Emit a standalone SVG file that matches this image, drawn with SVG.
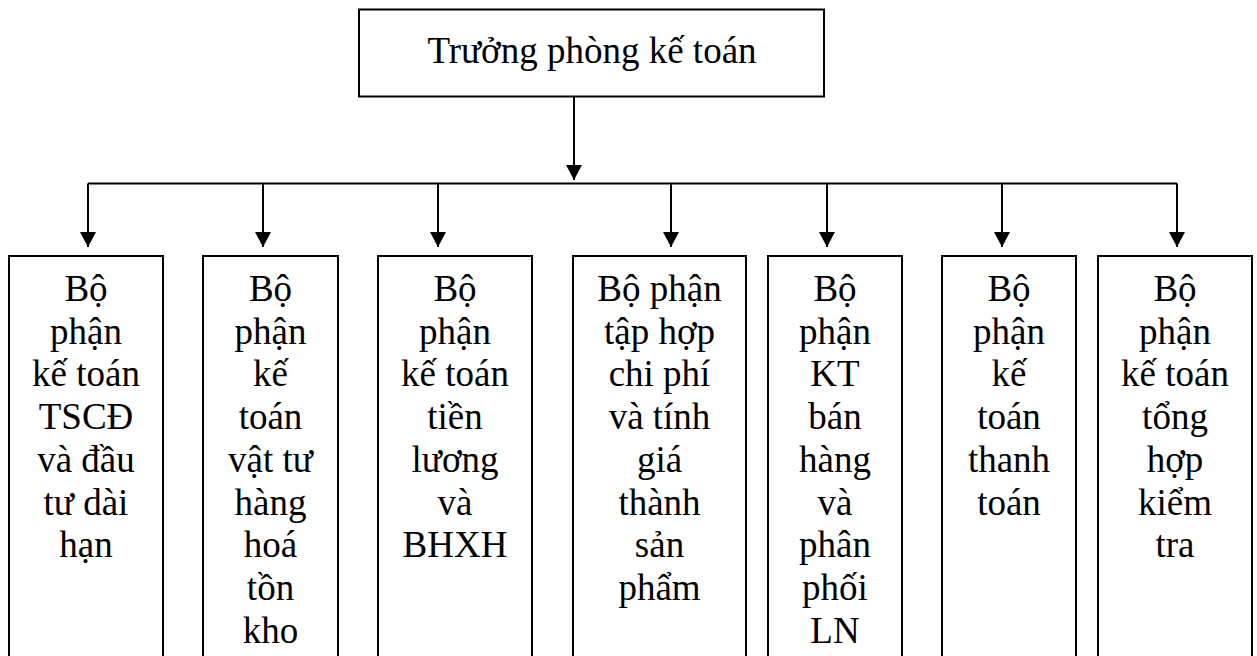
<svg xmlns="http://www.w3.org/2000/svg" width="1257" height="656" viewBox="0 0 1257 656">
  <style>
    .box { fill: #ffffff; stroke: #000000; stroke-width: 2; }
    .lbl { font-family: "Liberation Serif", "Times New Roman", serif; font-size: 37px; fill: #000000; text-anchor: middle; }
    .wire { fill: none; stroke: #000000; stroke-width: 2; }
  </style>
  <defs>
    <marker id="arrow" viewBox="0 0 15 16" refX="15" refY="8" markerWidth="15" markerHeight="16" markerUnits="userSpaceOnUse" orient="auto">
      <path d="M0,0 L15,8 L0,16 z" fill="#000000"/>
    </marker>
  </defs>
  <rect width="1257" height="656" fill="#ffffff"/>

  <!-- connectors -->
  <g id="connectors">
    <line class="wire" x1="574" y1="97" x2="574" y2="180" marker-end="url(#arrow)"/>
    <line class="wire" x1="88" y1="183.5" x2="1177" y2="183.5"/>
    <line class="wire" x1="88" y1="183.5" x2="88" y2="247" marker-end="url(#arrow)"/>
    <line class="wire" x1="263" y1="183.5" x2="263" y2="247" marker-end="url(#arrow)"/>
    <line class="wire" x1="438" y1="183.5" x2="438" y2="247" marker-end="url(#arrow)"/>
    <line class="wire" x1="671" y1="183.5" x2="671" y2="247" marker-end="url(#arrow)"/>
    <line class="wire" x1="827" y1="183.5" x2="827" y2="247" marker-end="url(#arrow)"/>
    <line class="wire" x1="1002" y1="183.5" x2="1002" y2="247" marker-end="url(#arrow)"/>
    <line class="wire" x1="1177" y1="183.5" x2="1177" y2="247" marker-end="url(#arrow)"/>
  </g>

  <!-- head of department -->
  <g id="truong-phong">
    <rect class="box" x="359" y="9.5" width="465" height="87"/>
    <text class="lbl" x="592" y="63">Trưởng phòng kế toán</text>
  </g>

  <!-- sections (boxes run past the bottom edge of the page) -->
  <g id="tscd">
    <rect class="box" x="9" y="256" width="154" height="420"/>
    <text class="lbl" y="301"><tspan x="86">Bộ</tspan><tspan x="86" dy="42.7">phận</tspan><tspan x="86" dy="42.7">kế toán</tspan><tspan x="86" dy="42.7">TSCĐ</tspan><tspan x="86" dy="42.7">và đầu</tspan><tspan x="86" dy="42.7">tư dài</tspan><tspan x="86" dy="42.7">hạn</tspan></text>
  </g>

  <g id="vat-tu">
    <rect class="box" x="203" y="256" width="135" height="420"/>
    <text class="lbl" y="301"><tspan x="270.5">Bộ</tspan><tspan x="270.5" dy="42.7">phận</tspan><tspan x="270.5" dy="42.7">kế</tspan><tspan x="270.5" dy="42.7">toán</tspan><tspan x="270.5" dy="42.7">vật tư</tspan><tspan x="270.5" dy="42.7">hàng</tspan><tspan x="270.5" dy="42.7">hoá</tspan><tspan x="270.5" dy="42.7">tồn</tspan><tspan x="270.5" dy="42.7">kho</tspan></text>
  </g>

  <g id="tien-luong">
    <rect class="box" x="378" y="256" width="154" height="420"/>
    <text class="lbl" y="301"><tspan x="455">Bộ</tspan><tspan x="455" dy="42.7">phận</tspan><tspan x="455" dy="42.7">kế toán</tspan><tspan x="455" dy="42.7">tiền</tspan><tspan x="455" dy="42.7">lương</tspan><tspan x="455" dy="42.7">và</tspan><tspan x="455" dy="42.7">BHXH</tspan></text>
  </g>

  <g id="chi-phi">
    <rect class="box" x="573" y="256" width="173" height="420"/>
    <text class="lbl" y="301"><tspan x="659.5">Bộ phận</tspan><tspan x="659.5" dy="42.7">tập hợp</tspan><tspan x="659.5" dy="42.7">chi phí</tspan><tspan x="659.5" dy="42.7">và tính</tspan><tspan x="659.5" dy="42.7">giá</tspan><tspan x="659.5" dy="42.7">thành</tspan><tspan x="659.5" dy="42.7">sản</tspan><tspan x="659.5" dy="42.7">phẩm</tspan></text>
  </g>

  <g id="ban-hang">
    <rect class="box" x="768" y="256" width="134" height="420"/>
    <text class="lbl" y="301"><tspan x="835">Bộ</tspan><tspan x="835" dy="42.7">phận</tspan><tspan x="835" dy="42.7">KT</tspan><tspan x="835" dy="42.7">bán</tspan><tspan x="835" dy="42.7">hàng</tspan><tspan x="835" dy="42.7">và</tspan><tspan x="835" dy="42.7">phân</tspan><tspan x="835" dy="42.7">phối</tspan><tspan x="835" dy="42.7">LN</tspan></text>
  </g>

  <g id="thanh-toan">
    <rect class="box" x="942" y="256" width="134" height="420"/>
    <text class="lbl" y="301"><tspan x="1009">Bộ</tspan><tspan x="1009" dy="42.7">phận</tspan><tspan x="1009" dy="42.7">kế</tspan><tspan x="1009" dy="42.7">toán</tspan><tspan x="1009" dy="42.7">thanh</tspan><tspan x="1009" dy="42.7">toán</tspan></text>
  </g>

  <g id="tong-hop">
    <rect class="box" x="1098" y="256" width="154" height="420"/>
    <text class="lbl" y="301"><tspan x="1175">Bộ</tspan><tspan x="1175" dy="42.7">phận</tspan><tspan x="1175" dy="42.7">kế toán</tspan><tspan x="1175" dy="42.7">tổng</tspan><tspan x="1175" dy="42.7">hợp</tspan><tspan x="1175" dy="42.7">kiểm</tspan><tspan x="1175" dy="42.7">tra</tspan></text>
  </g>
</svg>
